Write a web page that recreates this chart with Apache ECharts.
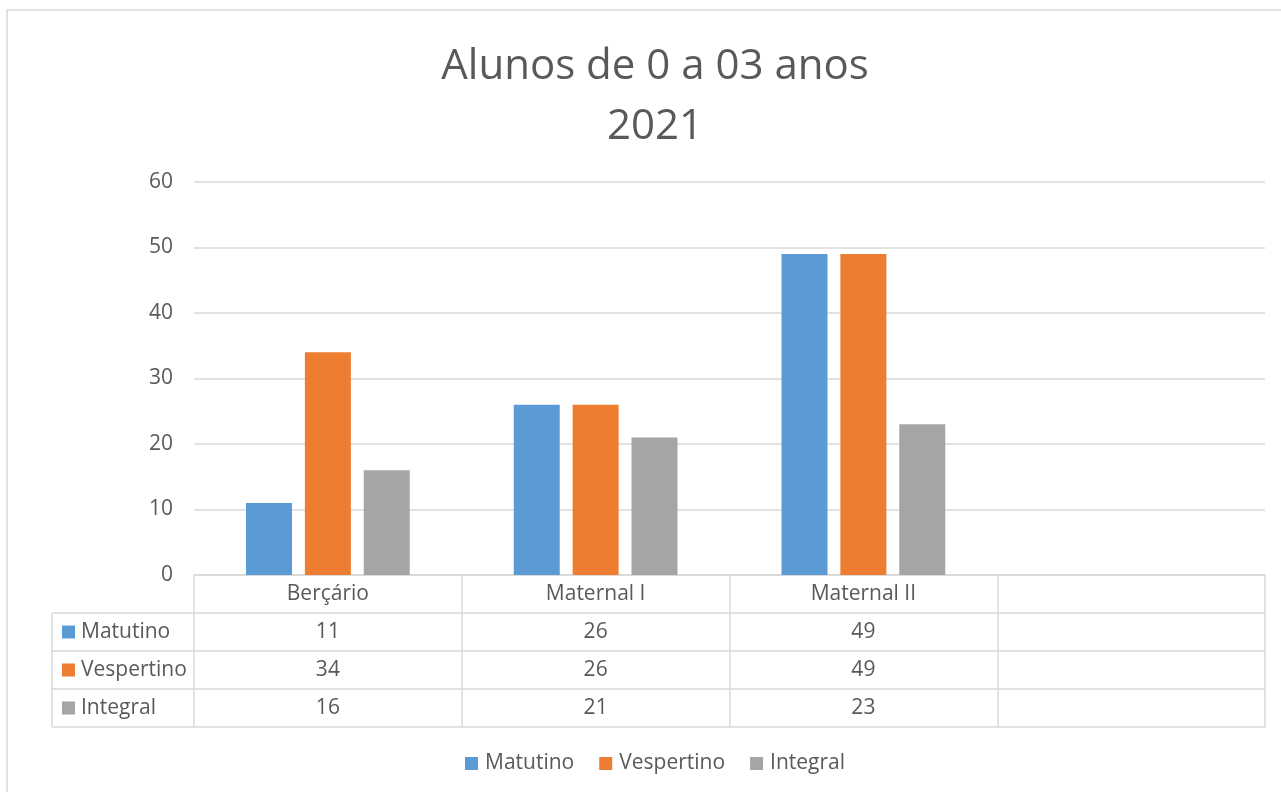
<!DOCTYPE html>
<html lang="pt">
  <head>
    <meta charset="UTF-8" />
    <title>Alunos de 0 a 03 anos 2021</title>
    <style>
      html, body { margin: 0; padding: 0; background: #fff; }
    </style>
  </head>
  <body>
    <div id="main" style="width: 1281px; height: 792px"></div>
    <script src="https://cdn.jsdelivr.net/npm/echarts@6/dist/echarts.min.js"></script>
    <script>
      // data
      var categories = ["Berçário", "Maternal I", "Maternal II", ""];
      var seriesNames = ["Matutino", "Vespertino", "Integral"];
      var matutino = [11, 26, 49, null];
      var vespertino = [34, 26, 49, null];
      var integral = [16, 21, 23, null];
      var colors = ["#5B9BD5", "#ED7D31", "#A5A5A5"];

      var allValues = [matutino, vespertino, integral];
      var font = "'Open Sans', 'Noto Sans', sans-serif";
      var textColor = "#595959";
      var lineColor = "#D9D9D9";
      var fs = 21;
      var rowH = 38;
      var gridLeft = 194;
      var tableLeft = 52;
      var axisY = 575;

      // x axes: category header row + one row per series (table) + bottom line
      var xAxes = [
        {
          type: "category",
          data: categories,
          gridIndex: 0,
          position: "bottom",
          offset: 0,
          axisLine: { show: true, lineStyle: { color: lineColor, width: 1.5 } },
          axisTick: { show: true, length: rowH, lineStyle: { color: lineColor, width: 1.5 } },
          axisLabel: {
            color: textColor, fontSize: fs, fontFamily: font,
            verticalAlign: "middle", margin: 19, interval: 0,
          },
        },
      ];
      allValues.forEach(function (vals, i) {
        xAxes.push({
          type: "category",
          data: vals.map(function (v) { return v == null ? "" : String(v); }),
          gridIndex: 0,
          position: "bottom",
          offset: rowH * (i + 1),
          axisLine: { show: true, lineStyle: { color: lineColor, width: 1.5 } },
          axisTick: { show: true, length: rowH, lineStyle: { color: lineColor, width: 1.5 } },
          axisLabel: {
            color: textColor, fontSize: fs, fontFamily: font,
            verticalAlign: "middle", margin: 19, interval: 0,
          },
        });
      });
      xAxes.push({
        type: "category",
        data: categories,
        gridIndex: 0,
        position: "bottom",
        offset: rowH * 4,
        axisLine: { show: true, lineStyle: { color: lineColor, width: 1.5 } },
        axisTick: { show: false },
        axisLabel: { show: false },
      });

      // left column of the data table (series names with keys)
      var graphics = [
        {
          type: "rect",
          shape: { x: 7, y: 10, width: 1300, height: 800 },
          style: { fill: "none", stroke: lineColor, lineWidth: 1.5 },
          silent: true,
        },
        {
          type: "line",
          shape: { x1: tableLeft, y1: axisY + rowH, x2: tableLeft, y2: axisY + rowH * 4 },
          style: { stroke: lineColor, lineWidth: 1.5 },
        },
      ];
      for (var r = 1; r <= 4; r++) {
        graphics.push({
          type: "line",
          shape: { x1: tableLeft, y1: axisY + rowH * r, x2: gridLeft, y2: axisY + rowH * r },
          style: { stroke: lineColor, lineWidth: 1.5 },
        });
      }
      seriesNames.forEach(function (name, i) {
        var cy = axisY + rowH * (i + 1) + rowH / 2;
        graphics.push({
          type: "rect",
          shape: { x: 62, y: cy - 6.5, width: 13, height: 13 },
          style: { fill: colors[i] },
        });
        graphics.push({
          type: "text",
          x: 81,
          y: cy,
          style: {
            text: name, fill: textColor, fontSize: fs, fontFamily: font,
            verticalAlign: "middle", align: "left",
          },
        });
      });

      var chartDom = document.getElementById("main");
      var myChart = echarts.init(chartDom);
      var option = {
        animation: false,
        backgroundColor: "#fff",
        color: colors,
        title: {
          text: "Alunos de 0 a 03 anos\n2021",
          left: 650,
          top: 32,
          textAlign: "center",
          textStyle: {
            color: textColor, fontSize: 42, fontWeight: "normal",
            fontFamily: font, lineHeight: 60,
          },
        },
        legend: {
          data: seriesNames,
          bottom: 13,
          left: 460,
          icon: "rect",
          itemWidth: 13,
          itemHeight: 13,
          itemGap: 25,
          textStyle: { color: textColor, fontSize: fs, fontFamily: font, padding: [0, 0, 0, 2] },
        },
        grid: { left: gridLeft, right: 16, top: 182, bottom: 792 - axisY, containLabel: false },
        xAxis: xAxes,
        yAxis: {
          type: "value",
          min: 0,
          max: 60,
          interval: 10,
          axisLine: { show: false },
          axisTick: { show: false },
          splitLine: { lineStyle: { color: lineColor, width: 1.5 } },
          axisLabel: { color: textColor, fontSize: fs, fontFamily: font, margin: 21 },
        },
        graphic: graphics,
        series: [
          { name: seriesNames[0], type: "bar", data: matutino, barWidth: 46, barGap: "28%" },
          { name: seriesNames[1], type: "bar", data: vespertino, barWidth: 46, barGap: "28%" },
          { name: seriesNames[2], type: "bar", data: integral, barWidth: 46, barGap: "28%" },
        ],
      };
      myChart.setOption(option);
    </script>
  </body>
</html>
